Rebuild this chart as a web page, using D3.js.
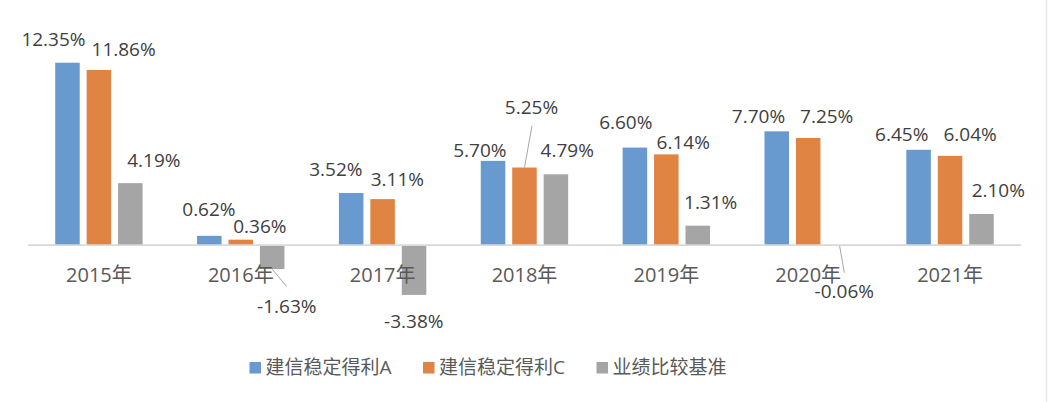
<!DOCTYPE html>
<html>
<head>
<meta charset="utf-8">
<title>建信稳定得利</title>
<script src="https://cdn.jsdelivr.net/npm/d3@7/dist/d3.min.js"></script>
<style>
    html, body {
        margin: 0;
        padding: 0;
        background: #fff;
    }
    svg text {
        font-family: "Open Sans", "Noto Sans CJK SC", sans-serif;
    }
</style>
</head>
<body>
<div id="chart"></div>
<script>
    const years = ["2015年", "2016年", "2017年", "2018年", "2019年", "2020年", "2021年"];
    const seriesNames = ["建信稳定得利A", "建信稳定得利C", "业绩比较基准"];
    const fundA = [12.35, 0.62, 3.52, 5.70, 6.60, 7.70, 6.45];
    const fundC = [11.86, 0.36, 3.11, 5.25, 6.14, 7.25, 6.04];
    const benchmark = [4.19, -1.63, -3.38, 4.79, 1.31, -0.06, 2.10];

    const colors = ["#6899cf", "#e08444", "#a5a5a5"];

    // hand placed labels (Excel moved some of them), offsets from the bar end
    const labelDx = [
        [-14, -0.4, -15.3, -13.2, -9.1, -18.3, -16.9],
        [24.7, 19.1, 14.7, 7, 16.9, 18.5, 20.1],
        [23.5, 14.6, -0.3, 11.3, 12.9, 4.7, 16.8]
    ];
    const labelDy = [
        [-16.7, -19.8, -17.3, -3.6, -18.3, -8.6, -8.8],
        [-14, -7, -13.4, -53.2, -5.1, -15.3, -14.8],
        [-16.6, 43.6, 33.4, -17, -16.4, 52.4, -17.3]
    ];
    // leader lines: series, year, end offset from the label anchor
    const leaders = [
        {s: 2, g: 1, ex: 0, ey: -26},
        {s: 1, g: 3, ex: 0.6, ey: 11.4},
        {s: 2, g: 5, ex: 0, ey: -25.6}
    ];

    const width = 1050;
    const height = 402;
    const values = [fundA, fundC, benchmark];

    const x0 = d3.scaleBand(years, [28, 1021]);
    const x1 = d3.scaleBand([0, 1, 2], [27.2, 114.6]).paddingInner(0.22);
    const y = d3.scaleLinear([-4, 14], [245 + 4 * 14.76, 245 - 14 * 14.76]);

    const barX = (s, g) => x0(years[g]) + x1(s);
    const barC = (s, g) => barX(s, g) + x1.bandwidth() / 2;
    const fmt = v => v.toFixed(2) + "%";

    const svg = d3.select("#chart").append("svg")
        .attr("width", width)
        .attr("height", height)
        .attr("viewBox", [0, 0, width, height]);

    // right frame edge
    svg.append("line")
        .attr("x1", 1046.5).attr("x2", 1046.5)
        .attr("y1", 0).attr("y2", height)
        .attr("stroke", "#e8e8e8")
        .attr("stroke-width", 1.5);

    const cells = values.flatMap((arr, s) => arr.map((v, g) => ({s, g, v})));

    svg.append("g")
        .selectAll("rect")
        .data(cells)
        .join("rect")
        .attr("x", d => barX(d.s, d.g))
        .attr("width", x1.bandwidth())
        .attr("y", d => y(Math.max(0, d.v)))
        .attr("height", d => Math.abs(y(d.v) - y(0)))
        .attr("fill", d => colors[d.s]);

    // zero axis
    svg.append("line")
        .attr("x1", x0.range()[0]).attr("x2", x0.range()[1])
        .attr("y1", y(0)).attr("y2", y(0))
        .attr("stroke", "#d9d9d9")
        .attr("stroke-width", 1.75);

    const lx = d => barC(d.s, d.g) + labelDx[d.s][d.g];
    const ly = d => y(d.v) + labelDy[d.s][d.g];

    svg.append("g")
        .selectAll("line")
        .data(leaders)
        .join("line")
        .attr("x1", d => barC(d.s, d.g))
        .attr("y1", d => y(values[d.s][d.g]))
        .attr("x2", d => lx({s: d.s, g: d.g, v: values[d.s][d.g]}) + d.ex)
        .attr("y2", d => ly({s: d.s, g: d.g, v: values[d.s][d.g]}) + d.ey)
        .attr("stroke", "#a6a6a6")
        .attr("stroke-width", 1);

    svg.append("g")
        .selectAll("text")
        .data(cells)
        .join("text")
        .attr("x", lx)
        .attr("y", ly)
        .attr("text-anchor", "middle")
        .attr("font-size", 19)
        .attr("fill", "#404040")
        .text(d => fmt(d.v));

    // category labels
    svg.append("g")
        .selectAll("text")
        .data(years)
        .join("text")
        .attr("x", d => x0(d) + x0.bandwidth() / 2)
        .attr("y", 282)
        .attr("text-anchor", "middle")
        .attr("font-size", 20)
        .attr("fill", "#595959")
        .text(d => d);

    // legend
    const legendX = d3.scalePoint(seriesNames, [249.5, 596.5]);
    const lg = svg.append("g")
        .selectAll("g")
        .data(seriesNames)
        .join("g")
        .attr("transform", d => `translate(${legendX(d)},362)`);
    lg.append("rect")
        .attr("width", 11.5)
        .attr("height", 11.5)
        .attr("fill", (d, i) => colors[i]);
    lg.append("text")
        .attr("x", 16)
        .attr("y", 12)
        .attr("font-size", 19)
        .attr("fill", "#595959")
        .text(d => d);
</script>
</body>
</html>
